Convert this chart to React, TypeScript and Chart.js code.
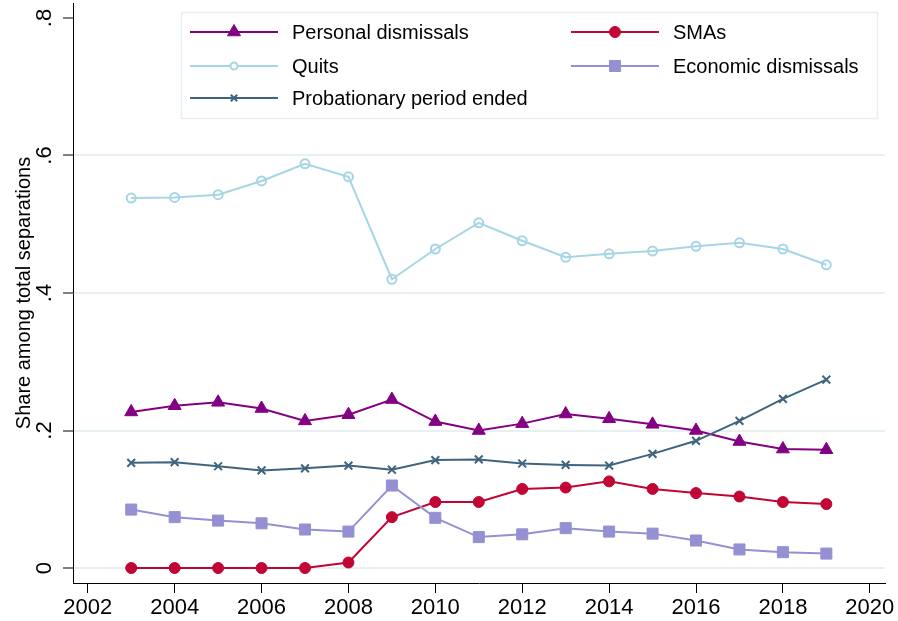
import React, { useEffect, useRef } from "react";
import { Chart, registerables } from "chart.js";

Chart.register(...registerables);

const years = [2003, 2004, 2005, 2006, 2007, 2008, 2009, 2010, 2011, 2012, 2013, 2014, 2015, 2016, 2017, 2018, 2019];
const personalDismissals = [0.227, 0.236, 0.241, 0.232, 0.214, 0.223, 0.245, 0.213, 0.2, 0.21, 0.224, 0.217, 0.209, 0.2, 0.184, 0.173, 0.172];
const smas = [0, 0, 0, 0, 0, 0.008, 0.074, 0.096, 0.096, 0.115, 0.117, 0.126, 0.115, 0.109, 0.104, 0.096, 0.093];
const quits = [0.538, 0.539, 0.543, 0.563, 0.588, 0.569, 0.42, 0.464, 0.502, 0.476, 0.452, 0.457, 0.461, 0.468, 0.473, 0.464, 0.441];
const economicDismissals = [0.085, 0.074, 0.069, 0.065, 0.056, 0.053, 0.12, 0.073, 0.045, 0.049, 0.058, 0.053, 0.05, 0.04, 0.027, 0.023, 0.021];
const probationEnded = [0.153, 0.154, 0.148, 0.142, 0.145, 0.149, 0.143, 0.157, 0.158, 0.152, 0.15, 0.149, 0.166, 0.185, 0.214, 0.246, 0.274];

const xTickValues = [2002, 2004, 2006, 2008, 2010, 2012, 2014, 2016, 2018, 2020];
const yTickValues = [0, 0.2, 0.4, 0.6, 0.8];
const yTickLabels = ["0", ".2", ".4", ".6", ".8"];
const yTitle = "Share among total separations";

const FONT = "'Liberation Sans', Arial, Helvetica, sans-serif";

type SeriesDef = {
  label: string;
  values: number[];
  color: string;
  style: string;
  radius: number;
  legendRadius: number;
  hollow?: boolean;
  pointBorderWidth: number;
};

const series: SeriesDef[] = [
  { label: "Personal dismissals", values: personalDismissals, color: "#830083", style: "triangle", radius: 7.5, legendRadius: 7.5, pointBorderWidth: 1 },
  { label: "SMAs", values: smas, color: "#c10534", style: "circle", radius: 5.5, legendRadius: 5.5, pointBorderWidth: 1 },
  { label: "Quits", values: quits, color: "#a6d5e5", style: "circle", radius: 4.5, legendRadius: 3.5, hollow: true, pointBorderWidth: 2 },
  { label: "Economic dismissals", values: economicDismissals, color: "#9590d2", style: "rect", radius: 7.8, legendRadius: 7.8, pointBorderWidth: 1 },
  { label: "Probationary period ended", values: probationEnded, color: "#3f657e", style: "crossRot", radius: 5.5, legendRadius: 4.5, pointBorderWidth: 2 },
];

function drawMarker(ctx: CanvasRenderingContext2D, s: SeriesDef, x: number, y: number, r: number) {
  ctx.save();
  ctx.strokeStyle = s.color;
  ctx.fillStyle = s.color;
  ctx.lineWidth = s.pointBorderWidth;
  ctx.beginPath();
  if (s.style === "triangle") {
    ctx.moveTo(x, y - r);
    ctx.lineTo(x + r * 0.866, y + r * 0.5);
    ctx.lineTo(x - r * 0.866, y + r * 0.5);
    ctx.closePath();
    ctx.fill();
    ctx.stroke();
  } else if (s.style === "circle") {
    ctx.arc(x, y, r, 0, Math.PI * 2);
    if (s.hollow) {
      ctx.fillStyle = "#fff";
      ctx.fill();
    } else ctx.fill();
    ctx.stroke();
  } else if (s.style === "rect") {
    const h = r * Math.SQRT1_2;
    ctx.rect(x - h, y - h, 2 * h, 2 * h);
    ctx.fill();
    ctx.stroke();
  } else if (s.style === "crossRot") {
    const h = r * Math.SQRT1_2;
    ctx.moveTo(x - h, y - h);
    ctx.lineTo(x + h, y + h);
    ctx.moveTo(x - h, y + h);
    ctx.lineTo(x + h, y - h);
    ctx.stroke();
  }
  ctx.restore();
}

const gridLegend = {
  id: "gridLegend",
  afterDraw(chart: any) {
    const ctx: CanvasRenderingContext2D = chart.ctx;
    const box = { x: 181, y: 12, w: 696, h: 106 };
    const colX = [190, 571];
    const rowY = [32, 66, 98];
    ctx.save();
    ctx.fillStyle = "#ffffff";
    ctx.fillRect(box.x, box.y, box.w, box.h);
    ctx.strokeStyle = "#e6eef1";
    ctx.lineWidth = 1.5;
    ctx.strokeRect(box.x + 0.5, box.y + 0.5, box.w, box.h);
    series.forEach((s, i) => {
      const col = i % 2;
      const row = Math.floor(i / 2);
      const x0 = colX[col];
      const y = rowY[row];
      ctx.strokeStyle = s.color;
      ctx.lineWidth = 2;
      ctx.beginPath();
      ctx.moveTo(x0, y);
      ctx.lineTo(x0 + 88, y);
      ctx.stroke();
      drawMarker(ctx, s, x0 + 44, y, s.legendRadius);
      ctx.fillStyle = "#000";
      ctx.font = `20px ${FONT}`;
      ctx.textAlign = "left";
      ctx.textBaseline = "middle";
      ctx.fillText(s.label, x0 + 102, y + 1);
    });
    ctx.restore();
  },
};

export default function App() {
  const ref = useRef<HTMLCanvasElement>(null);
  useEffect(() => {
    document.body.style.margin = "0";
    const canvas = ref.current!;
    const chart = new Chart(canvas, {
      type: "line",
      data: {
        datasets: series.map((s, i) => ({
          label: s.label,
          data: years.map((yr, j) => ({ x: yr, y: s.values[j] })),
          borderColor: s.color,
          backgroundColor: s.color,
          borderWidth: 2,
          pointStyle: s.style as any,
          pointRadius: s.radius,
          pointBackgroundColor: s.hollow ? "rgba(255,255,255,0)" : s.color,
          pointBorderColor: s.color,
          pointBorderWidth: s.pointBorderWidth,
          tension: 0,
          fill: false,
          order: series.length - i,
        })),
      },
      options: {
        responsive: false,
        animation: false,
        devicePixelRatio: 1,
        layout: { autoPadding: false, padding: { top: 3, right: 13, left: 0, bottom: 0 } },
        plugins: { legend: { display: false }, tooltip: { enabled: false } },
        scales: {
          x: {
            type: "linear",
            position: "bottom",
            min: 2001.66,
            max: 2020.35,
            afterBuildTicks: (s: any) => {
              s.ticks = xTickValues.map((v) => ({ value: v }));
            },
            afterFit: (s: any) => {
              s.height = 38;
              s.paddingLeft = 0;
              s.paddingRight = 0;
            },
            ticks: {
              callback: (v: any) => String(v),
              font: { size: 22, family: FONT },
              color: "#000",
              padding: 2,
              maxRotation: 0,
              autoSkip: false,
            },
            grid: { drawOnChartArea: false, drawTicks: true, tickLength: 10, tickColor: "#000", tickWidth: 1 },
            border: { display: true, color: "#000", width: 1 },
          },
          y: {
            type: "linear",
            min: -0.0218,
            max: 0.8218,
            afterBuildTicks: (s: any) => {
              s.ticks = yTickValues.map((v) => ({ value: v }));
            },
            afterFit: (s: any) => {
              s.width = 73;
              s.paddingTop = 0;
              s.paddingBottom = 0;
            },
            ticks: {
              callback: (_v: any, i: number) => yTickLabels[i],
              font: { size: 22, family: FONT },
              color: "#000",
              padding: 9,
              minRotation: 90,
              maxRotation: 90,
              crossAlign: "center",
              autoSkip: false,
            },
            grid: {
              color: (c: any) => (c.tick && c.tick.value >= 0.8 ? "rgba(0,0,0,0)" : "#e9f0f2"),
              lineWidth: 2,
              tickLength: 10,
              tickColor: "#000",
              tickWidth: 1,
            },
            border: { display: true, color: "#000", width: 1 },
            title: {
              display: true,
              text: yTitle,
              font: { size: 20, family: FONT },
              color: "#000",
              padding: { top: 12, bottom: 0 },
            },
          },
        },
      },
      plugins: [gridLegend],
    } as any);
    return () => chart.destroy();
  }, []);
  return (
    <div style={{ width: 898, height: 621 }}>
      <canvas ref={ref} width={898} height={621} style={{ display: "block" }} />
    </div>
  );
}
